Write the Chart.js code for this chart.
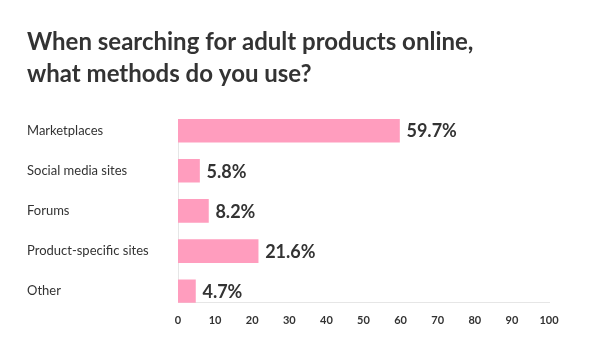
<!DOCTYPE html>
<html>
<head>
<meta charset="utf-8">
<script src="https://cdn.jsdelivr.net/npm/chart.js@4"></script>
<style>
  html, body { margin: 0; padding: 0; background: #fff; }
  #wrap { width: 600px; height: 362px; }
</style>
</head>
<body>
<div id="wrap"><canvas id="methodsChart" width="600" height="362"></canvas></div>
<script>
const categories = ["Marketplaces", "Social media sites", "Forums", "Product-specific sites", "Other"];
const shares = [59.7, 5.8, 8.2, 21.6, 4.7];
const xTicks = [0, 10, 20, 30, 40, 50, 60, 70, 80, 90, 100];
const titleLines = ["When searching for adult products online,", "what methods do you use?"];

const textColor = "#333333";
const barColor = "#ff9dbe";
const lineColor = "#e6e6e6";

// value labels drawn right of each bar
const valueLabels = {
    id: "valueLabels",
    afterDatasetsDraw(chart) {
        const ctx = chart.ctx;
        const meta = chart.getDatasetMeta(0);
        ctx.save();
        ctx.font = "bold 18px Lato";
        ctx.fillStyle = textColor;
        ctx.textAlign = "left";
        ctx.textBaseline = "middle";
        meta.data.forEach((bar, i) => {
            ctx.fillText(shares[i] + "%", bar.x + 7, bar.y + 1);
        });
        ctx.restore();
    }
};

const ctx = document.getElementById("methodsChart").getContext("2d");

const methodsChart = new Chart(ctx, {
    type: "bar",
    data: {
        datasets: [{
            data: shares.map((v, i) => ({ x: v, y: i })),
            backgroundColor: barColor,
            borderWidth: 0,
            barThickness: 23
        }]
    },
    options: {
        indexAxis: "y",
        responsive: false,
        animation: false,
        layout: {
            padding: { left: 27, right: 51, top: 0, bottom: 24 }
        },
        plugins: {
            legend: { display: false },
            tooltip: { enabled: false },
            title: {
                display: true,
                text: titleLines,
                align: "start",
                color: textColor,
                font: { family: "Lato", size: 24, weight: "bold", lineHeight: "32px" },
                padding: { top: 26, bottom: 29 }
            }
        },
        scales: {
            x: {
                type: "linear",
                min: 0,
                max: 100,
                afterBuildTicks: (scale) => {
                    scale.ticks = xTicks.map(v => ({ value: v }));
                },
                grid: { display: false, drawTicks: false },
                border: { color: lineColor, width: 1 },
                ticks: {
                    color: textColor,
                    padding: 11,
                    font: { family: "Lato", size: 11, weight: "bold" }
                }
            },
            y: {
                type: "linear",
                reverse: true,
                offset: false,
                bounds: "data",
                min: -0.2875,
                max: categories.length - 1 + 0.2875,
                grid: { display: false, drawTicks: false },
                border: { color: lineColor, width: 1 },
                afterBuildTicks: (scale) => {
                    scale.ticks = categories.map((c, i) => ({ value: i }));
                },
                afterFit: (scale) => {
                    scale.width = 151;
                    scale.paddingTop = 0;
                    scale.paddingBottom = 0;
                },
                ticks: {
                    crossAlign: "far",
                    color: textColor,
                    font: { family: "Lato", size: 13 },
                    callback: (v) => categories[v]
                }
            }
        }
    },
    plugins: [valueLabels]
});
</script>
</body>
</html>
